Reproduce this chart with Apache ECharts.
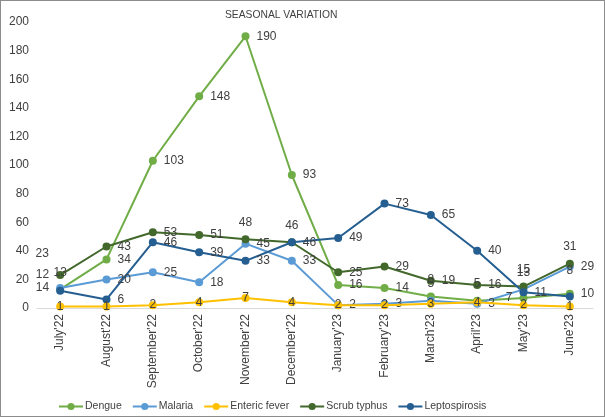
<!DOCTYPE html>
<html>
<head>
<meta charset="utf-8">
<script src="https://cdn.jsdelivr.net/npm/echarts@6/dist/echarts.min.js"></script>
<style>
html,body{margin:0;padding:0;background:#fff;}
#c{width:603px;height:415px;border:1px solid #8c8c8c;}
</style>
</head>
<body>
<div id="c"></div>
<script>
const categories = ["July'22","August'22","September'22","October'22","November'22","December'22","January'23","February'23","March'23","April'23","May'23","June'23"];
const dengue = [13, 34, 103, 148, 190, 93, 16, 14, 8, 5, 7, 10];
const malaria = [14, 20, 25, 18, 45, 33, 2, 3, 5, 3, 13, 29];
const enteric = [1, 1, 2, 4, 7, 4, 2, 2, 3, 4, 2, 1];
const scrub = [23, 43, 53, 51, 48, 46, 25, 29, 19, 16, 15, 31];
const lepto = [12, 6, 46, 39, 33, 46, 49, 73, 65, 40, 11, 8];
const yTicks = [0, 20, 40, 60, 80, 100, 120, 140, 160, 180, 200];

const colors = {
  Dengue: '#70AD47',
  Malaria: '#5B9BD5',
  'Enteric fever': '#FFC000',
  'Scrub typhus': '#43682B',
  Leptospirosis: '#255E91'
};

// label placement overrides (index -> position)
const labelOverrides = {
  Dengue: {0: 'top', 8: 'top', 9: 'top', 10: 'left'},
  Malaria: {0: 'left', 8: 'top', 10: 'top'},
  'Scrub typhus': {0: 'top', 4: 'top', 5: 'top', 10: 'top', 11: 'top'},
  Leptospirosis: {0: 'left', 11: 'top'}
};

function build(name, values, defPos) {
  const ov = labelOverrides[name] || {};
  return {
    name: name,
    type: 'line',
    data: values.map((v, i) => {
      const pos = ov[i];
      if (pos) {
        const o = {value: v, label: {position: pos}};
        if (name === 'Scrub typhus' && i === 0) o.label.offset = [-18, -4];
        if (name === 'Leptospirosis' && i === 0) o.label.offset = [0, -16];
        if (name === 'Leptospirosis' && i === 11) o.label.distance = 16;
        return o;
      }
      return v;
    }),
    symbol: 'circle',
    symbolSize: 8,
    lineStyle: {width: 2, color: colors[name]},
    itemStyle: {color: colors[name]},
    label: {
      show: true,
      position: defPos,
      distance: 7,
      fontSize: 12,
      color: '#404040',
      fontFamily: 'Liberation Sans, Arial, sans-serif'
    },
    z: name === 'Enteric fever' ? 5 : 2
  };
}

const chart = echarts.init(document.getElementById('c'));
chart.setOption({
  animation: false,
  color: Object.values(colors),
  textStyle: {fontFamily: 'Liberation Sans, Arial, sans-serif'},
  title: {
    text: 'SEASONAL VARIATION',
    left: 219,
    top: 4,
    textStyle: {fontSize: 10.3, fontWeight: 'normal', color: '#404040'}
  },
  grid: {left: 36, right: 11, top: 21, bottom: 108},
  xAxis: {
    type: 'category',
    data: categories,
    boundaryGap: true,
    axisLine: {lineStyle: {color: '#D9D9D9', width: 1}},
    axisTick: {show: false},
    axisLabel: {rotate: 90, fontSize: 12, color: '#404040', margin: 6, interval: 0}
  },
  yAxis: {
    type: 'value',
    min: yTicks[0],
    max: yTicks[yTicks.length - 1],
    interval: yTicks[1] - yTicks[0],
    axisLine: {show: false},
    axisTick: {show: false},
    splitLine: {show: false},
    axisLabel: {fontSize: 12, color: '#404040', margin: 8}
  },
  legend: {
    top: 400,
    left: 57,
    padding: 0,
    itemWidth: 24,
    itemHeight: 9,
    itemGap: 10,
    textStyle: {fontSize: 10.5, color: '#404040', padding: [0, 0, 0, -3]},
    data: ['Dengue', 'Malaria', 'Enteric fever', 'Scrub typhus', 'Leptospirosis']
  },
  series: [
    build('Dengue', dengue, 'right'),
    build('Malaria', malaria, 'right'),
    build('Scrub typhus', scrub, 'right'),
    build('Leptospirosis', lepto, 'right'),
    build('Enteric fever', enteric, 'inside')
  ]
});
</script>
</body>
</html>
